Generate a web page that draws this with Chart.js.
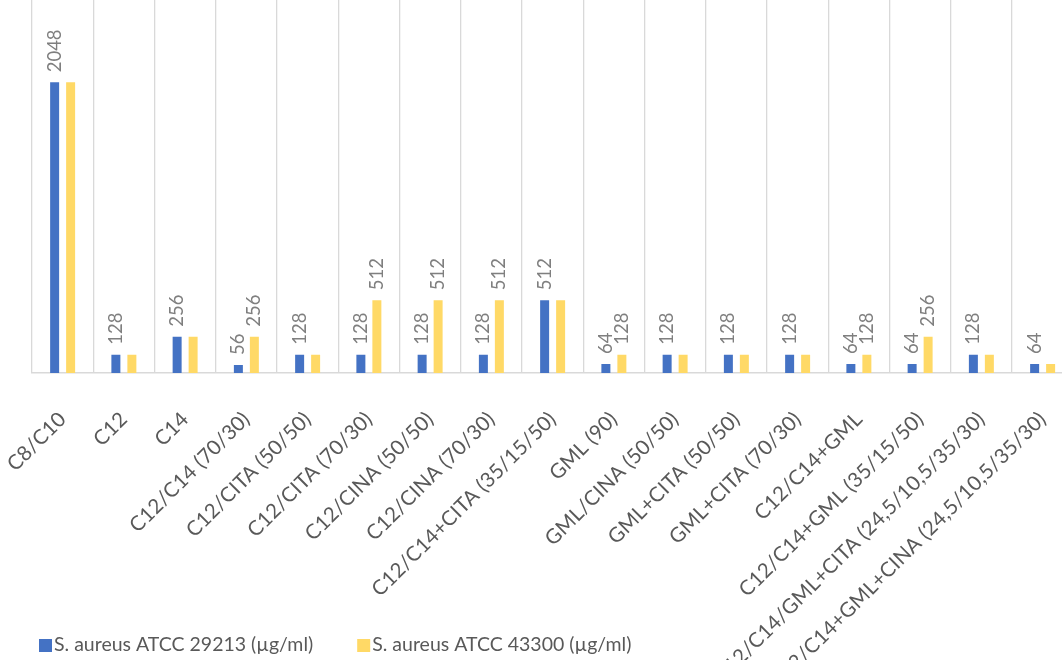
<!DOCTYPE html>
<html>
<head>
<meta charset="utf-8">
<script src="https://cdn.jsdelivr.net/npm/chart.js@4.4.1/dist/chart.umd.min.js"></script>
<style>
  html, body { margin: 0; padding: 0; background: #fff; overflow: hidden; }
  canvas { display: block; }
</style>
</head>
<body>
<canvas id="micChart" width="1080" height="660"></canvas>
<script>
const categories = [
    'C8/C10', 'C12', 'C14', 'C12/C14 (70/30)', 'C12/CITA (50/50)', 'C12/CITA (70/30)',
    'C12/CINA (50/50)', 'C12/CINA (70/30)', 'C12/C14+CITA (35/15/50)', 'GML (90)',
    'GML/CINA (50/50)', 'GML+CITA (50/50)', 'GML+CITA (70/30)', 'C12/C14+GML',
    'C12/C14+GML (35/15/50)', 'C12/C14/GML+CITA (24,5/10,5/35/30)',
    'C12/C14+GML+CINA (24,5/10,5/35/30)'
];
const mic29213 = [2048, 128, 256, 56, 128, 128, 128, 128, 512, 64, 128, 128, 128, 64, 64, 128, 64];
const mic43300 = [2048, 128, 256, 256, 128, 512, 512, 512, 512, 128, 128, 128, 128, 128, 256, 128, 64];
const seriesNames = ['S. aureus ATCC 29213 (µg/ml)', 'S. aureus ATCC 43300 (µg/ml)'];

// slightly wider letters on the category axis
const axisSpacing = {
    id: 'axisSpacing',
    beforeDraw(chart) { chart.ctx.letterSpacing = '0.2px'; },
    beforeDatasetsDraw(chart) { chart.ctx.letterSpacing = '0px'; }
};

// vertical value labels above the bars; second series only where it differs
const valueLabels = {
    id: 'valueLabels',
    afterDatasetsDraw(chart) {
        const ctx = chart.ctx;
        const first = chart.data.datasets[0].data;
        ctx.save();
        ctx.font = '18.5px Lato';
        ctx.fillStyle = '#7f7f7f';
        ctx.textAlign = 'left';
        ctx.textBaseline = 'middle';
        chart.data.datasets.forEach((ds, di) => {
            chart.getDatasetMeta(di).data.forEach((bar, i) => {
                const v = ds.data[i];
                if (di > 0 && v === first[i]) return;
                ctx.save();
                ctx.translate(bar.x, bar.y - 10);
                ctx.rotate(-Math.PI / 2);
                ctx.fillText(String(v), 0, 0);
                ctx.restore();
            });
        });
        ctx.restore();
    }
};

// legend row at the bottom left
const bottomLegend = {
    id: 'bottomLegend',
    afterDraw(chart) {
        const ctx = chart.ctx;
        ctx.save();
        ctx.letterSpacing = '0px';
        ctx.font = '19.5px Lato';
        ctx.textAlign = 'left';
        ctx.textBaseline = 'middle';
        let x = 39;
        const y = 645;
        chart.data.datasets.forEach(ds => {
            ctx.fillStyle = ds.backgroundColor;
            ctx.fillRect(x, y - 6, 13, 13);
            ctx.fillStyle = '#595959';
            ctx.fillText(ds.label, x + 15, y);
            x += 15 + ctx.measureText(ds.label).width + 44;
        });
        ctx.restore();
    }
};

function drawChart() {
    const ctx = document.getElementById('micChart').getContext('2d');
    new Chart(ctx, {
        type: 'bar',
        data: {
            labels: categories,
            datasets: [
                {
                    label: seriesNames[0],
                    data: mic29213,
                    backgroundColor: '#4472C4',
                    categoryPercentage: 0.522,
                    barPercentage: 0.5625
                },
                {
                    label: seriesNames[1],
                    data: mic43300,
                    backgroundColor: '#FFD966',
                    categoryPercentage: 0.522,
                    barPercentage: 0.5625
                }
            ]
        },
        options: {
            responsive: false,
            animation: false,
            devicePixelRatio: 1,
            layout: { padding: { left: 32, right: 6.75, top: 0, bottom: 0 } },
            plugins: {
                legend: { display: false },
                tooltip: { enabled: false }
            },
            scales: {
                x: {
                    grid: { color: '#d9d9d9', lineWidth: 1.3, drawTicks: false },
                    border: { color: '#d9d9d9', width: 1.5 },
                    ticks: {
                        autoSkip: false,
                        minRotation: 45,
                        maxRotation: 45,
                        padding: 34,
                        color: '#595959',
                        font: { family: 'Lato', size: 20.5 }
                    },
                    afterFit(scale) {
                        // keep the plot width fixed; rotated labels may overflow the edges
                        scale.height = 660 - 373;
                        scale.paddingLeft = 0;
                        scale.paddingRight = 0;
                    }
                },
                y: {
                    display: false,
                    min: 0,
                    max: 2628
                }
            }
        },
        plugins: [axisSpacing, valueLabels, bottomLegend]
    });
}

document.fonts.load('20px Lato').then(drawChart, drawChart);
</script>
</body>
</html>
